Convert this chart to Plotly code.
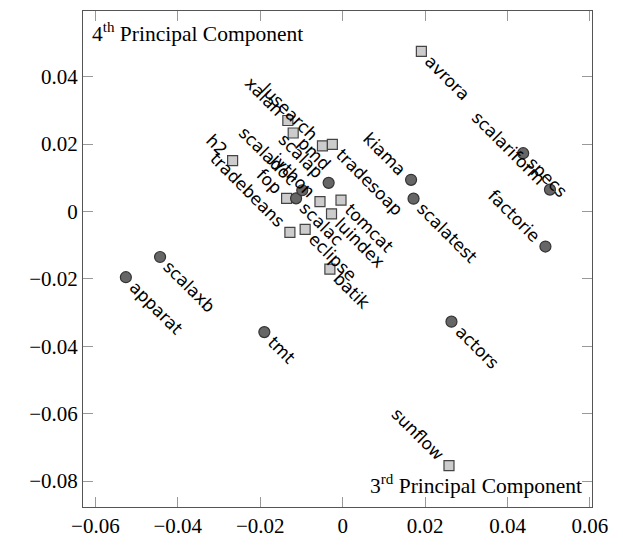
import plotly.graph_objects as go

# DaCapo benchmarks (squares)
sq_names = ["avrora", "batik", "eclipse", "fop", "h2", "jython", "luindex",
            "lusearch", "pmd", "sunflow", "tomcat", "tradebeans", "tradesoap", "xalan"]
sq_x = [0.0191, -0.0031, -0.0091, -0.0136, -0.0267, -0.0055, -0.0027,
        -0.0049, -0.0120, 0.0258, -0.0004, -0.0128, -0.0025, -0.0133]
sq_y = [0.0475, -0.0171, -0.0053, 0.0039, 0.0151, 0.0029, -0.0007,
        0.0195, 0.0233, -0.0754, 0.0034, -0.0062, 0.0199, 0.0270]
sq_side = ["LR", "LR", "LR", "UL", "UL", "UL", "LR",
           "UL", "LR", "UL", "LR", "UL", "LR", "UL"]

# Scala benchmarks (circles)
ci_names = ["actors", "apparat", "factorie", "kiama", "scalac", "scaladoc",
            "scalap", "scalariform", "scalatest", "scalaxb", "specs", "tmt"]
ci_x = [0.0264, -0.0526, 0.0492, 0.0166, -0.0113, -0.0098,
        -0.0034, 0.0503, 0.0172, -0.0443, 0.0438, -0.0190]
ci_y = [-0.0327, -0.0195, -0.0104, 0.0094, 0.0039, 0.0063,
        0.0085, 0.0065, 0.0038, -0.0135, 0.0173, -0.0358]
ci_side = ["LR", "LR", "UL", "UL", "LR", "UL",
           "UL", "UL", "LR", "LR", "LR", "LR"]

x_ticks = [-0.06, -0.04, -0.02, 0, 0.02, 0.04, 0.06]
y_ticks = [-0.08, -0.06, -0.04, -0.02, 0, 0.02, 0.04]


def fmt(v):
    if v == 0:
        return "0"
    return ("\u2212" if v < 0 else "") + f"{abs(v):.2f}"


fig = go.Figure()
fig.add_trace(go.Scatter(
    x=sq_x, y=sq_y, mode="markers", name="DaCapo",
    marker=dict(symbol="square", size=10, color="#cccccc",
                line=dict(color="#444444", width=1.2)),
))
fig.add_trace(go.Scatter(
    x=ci_x, y=ci_y, mode="markers", name="Scala",
    marker=dict(symbol="circle", size=11, color="#666666",
                line=dict(color="#333333", width=1.2)),
))

label_font = dict(family="DejaVu Sans", size=17, color="black")
for names, xs, ys, sides in [(sq_names, sq_x, sq_y, sq_side),
                             (ci_names, ci_x, ci_y, ci_side)]:
    for n, xv, yv, s in zip(names, xs, ys, sides):
        if s == "LR":
            fig.add_annotation(x=xv, y=yv, text=n, showarrow=False, textangle=45,
                               xanchor="left", yanchor="top", font=label_font,
                               xshift=-3, yshift=3)
        else:
            fig.add_annotation(x=xv, y=yv, text=n, showarrow=False, textangle=45,
                               xanchor="right", yanchor="bottom", font=label_font,
                               xshift=2, yshift=-2)

serif = dict(family="Liberation Serif", size=21, color="black")
corner = dict(family="Liberation Serif", size=21.5, color="black")
fig.add_annotation(xref="paper", yref="paper", x=0, y=1, xanchor="left", yanchor="top",
                   text="4<sup>th</sup> Principal Component", showarrow=False,
                   font=corner, xshift=7, yshift=-6)
fig.add_annotation(xref="paper", yref="paper", x=1, y=0, xanchor="right", yanchor="bottom",
                   text="3<sup>rd</sup> Principal Component", showarrow=False,
                   font=corner, xshift=-8, yshift=7)

axis_common = dict(showgrid=False, zeroline=False, showline=True, linecolor="#555555",
                   linewidth=1, mirror="ticks", ticks="inside", ticklen=10,
                   tickcolor="#999999", tickwidth=1, tickfont=serif)
fig.update_xaxes(range=[-0.0630, 0.0605], tickvals=x_ticks,
                 ticktext=[fmt(v) for v in x_ticks], **axis_common)
fig.update_yaxes(range=[-0.0877, 0.0595], tickvals=y_ticks,
                 ticktext=[fmt(v) for v in y_ticks], **axis_common)

fig.update_layout(width=623, height=548, margin=dict(l=83, r=31, t=10, b=28),
                  plot_bgcolor="white", paper_bgcolor="white", showlegend=False)

fig.write_html("out.html")
